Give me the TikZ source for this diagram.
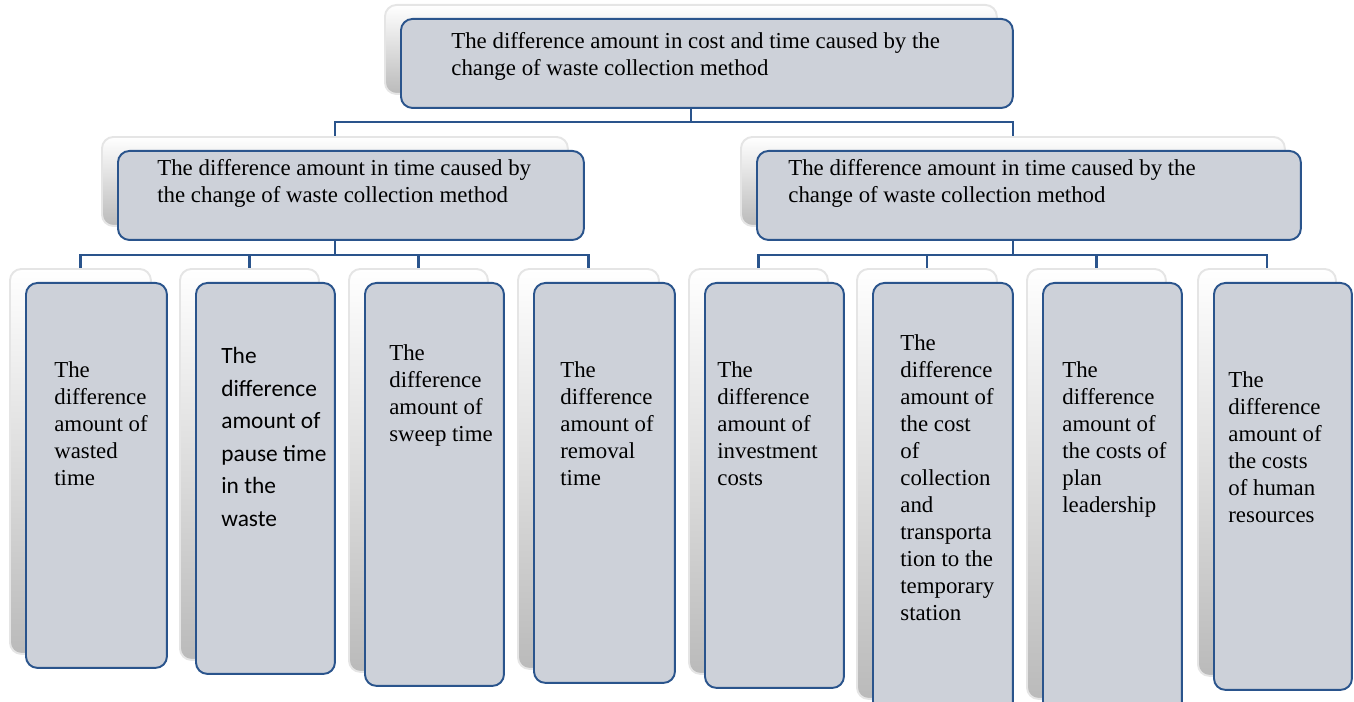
\documentclass[tikz,border=0pt]{standalone}
\usepackage{fontspec}
\setmainfont{Liberation Serif}
\newfontfamily\calibrifont{Carlito}
\usetikzlibrary{shadows}
\definecolor{boxline}{RGB}{42,84,140}
\definecolor{boxfill}{RGB}{205,209,217}
\tikzstyle{box} = [rectangle, rounded corners=6.5pt, draw=boxline, line width=1.1pt, fill=boxfill, anchor=north west, inner sep=0pt, general shadow={shadow xshift=-0.32cm, shadow yshift=0.28cm, top color=white, bottom color=black!27, draw=black!10}]
\tikzstyle{btext} = [anchor=north west, align=left, inner sep=0pt, font=\fontsize{13}{15.4}\selectfont]
\tikzstyle{stext} = [btext, font=\calibrifont\fontsize{13.3}{18.5}\selectfont]
\tikzstyle{link} = [draw=boxline, line width=1.5pt]

\begin{document}
\begin{tikzpicture}[x=0.02cm, y=-0.02cm]
	\useasboundingbox (0,0) rectangle (1354,702);
	\clip (0,0) rectangle (1354,702);

	% top level
	\node [box, minimum width=12.24cm, minimum height=1.78cm] (total) at (400,18) {};
	\node [btext] (totaltext) at (451,32) {The difference amount in cost and time caused by the\\change of waste collection method};

	% second level
	\node [box, minimum width=9.32cm, minimum height=1.78cm] (timediff) at (117,150) {};
	\node [btext] (timetext) at (157,159) {The difference amount in time caused by\\the change of waste collection method};
	\node [box, minimum width=10.88cm, minimum height=1.78cm] (costdiff) at (756,150) {};
	\node [btext] (costtext) at (788,159) {The difference amount in time caused by the\\change of waste collection method};

	% leaves
	\node [box, minimum width=2.82cm, minimum height=7.70cm] (wasted) at (25,282) {};
	\node [btext] (wastedtext) at (54,361) {The\\difference\\amount of\\wasted\\time};
	\node [box, minimum width=2.78cm, minimum height=7.82cm] (pause) at (195,282) {};
	\node [stext] (pausetext) at (221,347) {The\\difference\\amount of\\pause time\\in the\\waste};
	\node [box, minimum width=2.78cm, minimum height=8.06cm] (sweep) at (364,282) {};
	\node [btext] (sweeptext) at (389,344) {The\\difference\\amount of\\sweep time};
	\node [box, minimum width=2.82cm, minimum height=8.00cm] (removal) at (533,282) {};
	\node [btext] (removaltext) at (560,361) {The\\difference\\amount of\\removal\\time};

	\node [box, minimum width=2.78cm, minimum height=8.10cm] (invest) at (704,282) {};
	\node [btext] (investtext) at (717,361) {The\\difference\\amount of\\investment\\costs};
	\node [box, minimum width=2.80cm, minimum height=8.60cm] (transport) at (872,282) {};
	\node [btext] (transporttext) at (900,334) {The\\difference\\amount of\\the cost\\of\\collection\\and\\transporta\\tion to the\\temporary\\station};
	\node [box, minimum width=2.78cm, minimum height=8.60cm] (leader) at (1042,282) {};
	\node [btext] (leadertext) at (1062,361) {The\\difference\\amount of\\the costs of\\plan\\leadership};
	\node [box, minimum width=2.76cm, minimum height=8.14cm] (human) at (1213,282) {};
	\node [btext] (humantext) at (1228,371) {The\\difference\\amount of\\the costs\\of human\\resources};

	% connectors
	\path [link] ([xshift=-0.32cm]total.south) -- ++(0,13) -| ([xshift=-0.32cm, yshift=0.28cm]timediff.north);
	\path [link] ([xshift=-0.32cm]total.south) -- ++(0,13) -| ([xshift=-0.32cm, yshift=0.28cm]costdiff.north);

	\path [link] ([xshift=-0.32cm]timediff.south) -- ++(0,14) -| ([xshift=-0.32cm, yshift=0.28cm]wasted.north);
	\path [link] ([xshift=-0.32cm]timediff.south) -- ++(0,14) -| ([xshift=-0.32cm, yshift=0.28cm]pause.north);
	\path [link] ([xshift=-0.32cm]timediff.south) -- ++(0,14) -| ([xshift=-0.32cm, yshift=0.28cm]sweep.north);
	\path [link] ([xshift=-0.32cm]timediff.south) -- ++(0,14) -| ([xshift=-0.32cm, yshift=0.28cm]removal.north);

	\path [link] ([xshift=-0.32cm]costdiff.south) -- ++(0,14) -| ([xshift=-0.32cm, yshift=0.28cm]invest.north);
	\path [link] ([xshift=-0.32cm]costdiff.south) -- ++(0,14) -| ([xshift=-0.32cm, yshift=0.28cm]transport.north);
	\path [link] ([xshift=-0.32cm]costdiff.south) -- ++(0,14) -| ([xshift=-0.32cm, yshift=0.28cm]leader.north);
	\path [link] ([xshift=-0.32cm]costdiff.south) -- ++(0,14) -| ([xshift=-0.32cm, yshift=0.28cm]human.north);
\end{tikzpicture}
\end{document}
